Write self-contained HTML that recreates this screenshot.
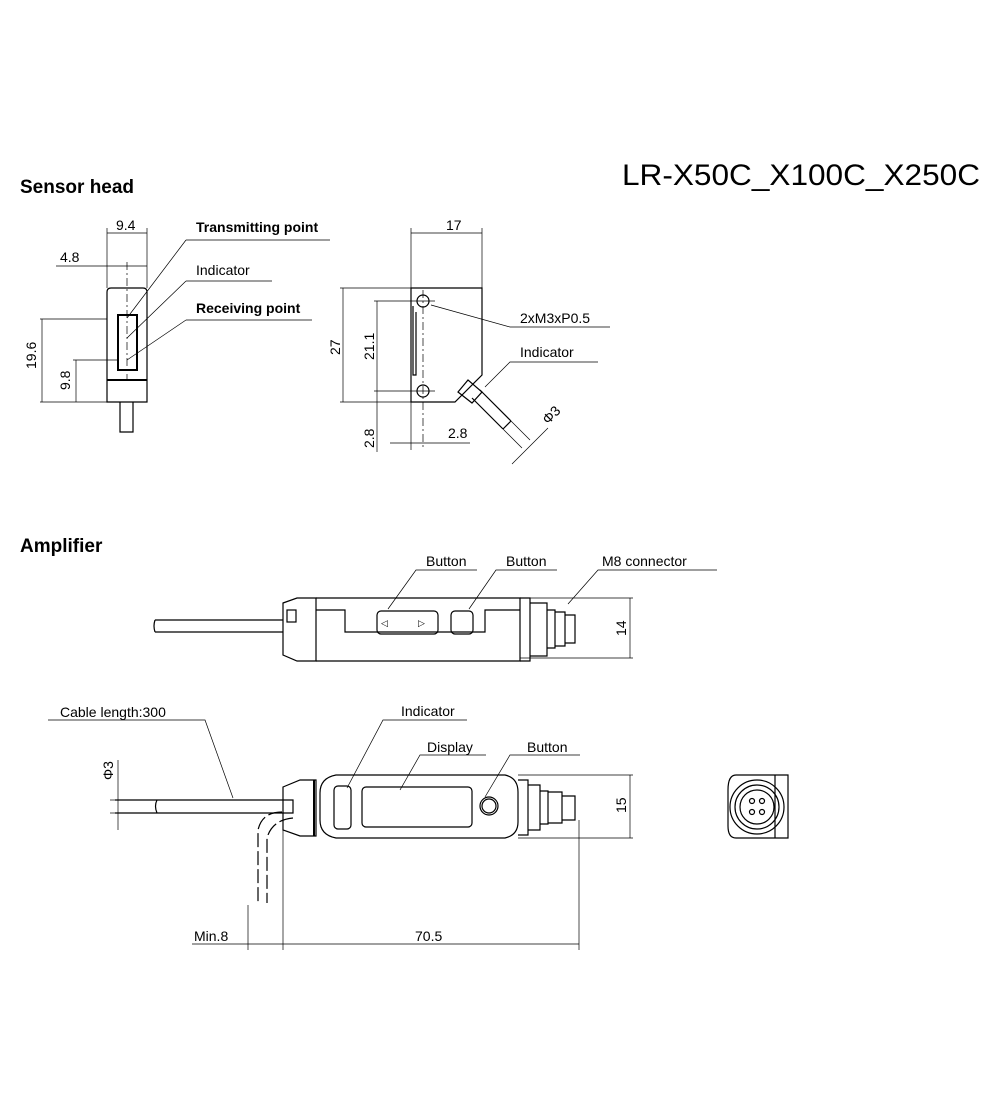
<!DOCTYPE html>
<html><head><meta charset="utf-8"><style>
html,body{margin:0;padding:0;background:#fff}
svg{display:block}
text{font-family:"Liberation Sans",sans-serif;fill:#000}
.t{font-size:14px}
.b{font-size:14px;font-weight:bold}
</style></head><body>
<svg width="1000" height="1100" viewBox="0 0 1000 1100" xmlns="http://www.w3.org/2000/svg" fill="none" stroke="#000" stroke-width="1">
<text x="622" y="185" style="font-size:30px" textLength="358" lengthAdjust="spacingAndGlyphs" stroke="none">LR-X50C_X100C_X250C</text>
<text x="20" y="193" style="font-size:19px;font-weight:bold" stroke="none">Sensor head</text>
<text x="20" y="552" style="font-size:19px;font-weight:bold" stroke="none">Amplifier</text>

<!-- sensor head side -->
<g stroke-width="1.2">
<path d="M107 402 V292 Q107 288 111 288 H143 Q147 288 147 292 V402 Z"/>
<line x1="107" y1="380" x2="147" y2="380" stroke-width="2"/>
<rect x="118" y="315" width="19" height="55" stroke-width="2"/>
<path d="M120 402 V432 H133 V402"/>
</g>
<line x1="127" y1="262" x2="127" y2="380" stroke-dasharray="8 3 2 3" stroke-width="0.7"/>
<g stroke-width="0.7">
<line x1="107" y1="228" x2="107" y2="288"/><line x1="147" y1="228" x2="147" y2="288"/>
<line x1="107" y1="233" x2="147" y2="233"/>
<line x1="56" y1="266" x2="147" y2="266"/>
<line x1="40" y1="319" x2="107" y2="319"/><line x1="73" y1="360" x2="118" y2="360"/><line x1="40" y1="402" x2="107" y2="402"/>
<line x1="42" y1="319" x2="42" y2="402"/><line x1="76" y1="360" x2="76" y2="402"/>
<path d="M186 240 H330 M186 240 L127 318 M186 281 H272 M186 281 L127 338 M186 320 H312 M186 320 L127 360"/>
</g>
<text x="116" y="230" class="t" stroke="none">9.4</text>
<text x="60" y="262" class="t" stroke="none">4.8</text>
<text x="36" y="369" class="t" stroke="none" transform="rotate(-90 36 369)">19.6</text>
<text x="70" y="390" class="t" stroke="none" transform="rotate(-90 70 390)">9.8</text>
<text x="196" y="232" class="b" stroke="none">Transmitting point</text>
<text x="196" y="275" class="t" stroke="none">Indicator</text>
<text x="196" y="313" class="b" stroke="none">Receiving point</text>

<!-- sensor head front -->
<g stroke-width="1.2">
<path d="M411 288 H482 V375 L455 402 H411 Z"/>
<circle cx="423" cy="301" r="6"/><circle cx="423" cy="391" r="6"/>
<path d="M413 306 V375 H416 V312"/>
<path d="M458 392 L468 380 L482 392 L472 403 Z"/>
<path d="M472 398 L503 429 M480 390 L511 421 M503 429 L511 421"/>
</g>
<g stroke-width="0.7">
<line x1="423" y1="290" x2="423" y2="450" stroke-dasharray="8 3 2 3"/>
<line x1="411" y1="228" x2="411" y2="450"/><line x1="482" y1="228" x2="482" y2="288"/>
<line x1="411" y1="233" x2="482" y2="233"/>
<line x1="340" y1="288" x2="411" y2="288"/><line x1="340" y1="402" x2="411" y2="402"/>
<line x1="343" y1="288" x2="343" y2="402"/>
<line x1="374" y1="301" x2="435" y2="301"/><line x1="374" y1="391" x2="435" y2="391"/>
<line x1="377" y1="301" x2="377" y2="452"/>
<line x1="390" y1="443" x2="470" y2="443"/>
<path d="M431 305 L510 327 H610 M485 387 L510 362 H598"/>
<path d="M503 429 L522 448 M511 421 L530 440 M512 464 L548 428"/>
</g>
<text x="446" y="230" class="t" stroke="none">17</text>
<text x="340" y="355" class="t" stroke="none" transform="rotate(-90 340 355)">27</text>
<text x="374" y="360" class="t" stroke="none" transform="rotate(-90 374 360)">21.1</text>
<text x="374" y="448" class="t" stroke="none" transform="rotate(-90 374 448)">2.8</text>
<text x="448" y="438" class="t" stroke="none">2.8</text>
<text x="520" y="323" class="t" stroke="none">2xM3xP0.5</text>
<text x="520" y="357" class="t" stroke="none">Indicator</text>
<text x="548" y="425" class="t" stroke="none" transform="rotate(-45 548 425)">Φ3</text>

<!-- amplifier top view -->
<g stroke-width="1.2">
<path d="M155 620 H283 M155 632 H283 M155 620 Q153 626 155 632"/>
<path d="M283 603 L297 598 H316 V661 H297 L283 655 Z"/>
<rect x="287" y="610" width="9" height="12"/>
<path d="M316 598 H520 V661 H316"/>
<path d="M316 610 H345 V632 H485 V610 H520"/>
<rect x="377" y="611" width="61" height="23" rx="4"/>
<rect x="451" y="611" width="22" height="23" rx="4"/>
<path d="M520 598 H530 V661 H520 M530 603 H547 V656 H530 M547 610 H555 V648 H547 M555 612 H565 V646 H555 M565 615 H575 V643 H565"/>
</g>
<text x="381" y="626" style="font-size:9px" stroke="none">◁</text><text x="418" y="626" style="font-size:9px" stroke="none">▷</text>
<g stroke-width="0.7">
<line x1="520" y1="598" x2="633" y2="598"/><line x1="520" y1="658" x2="633" y2="658"/>
<line x1="630" y1="598" x2="630" y2="658"/>
<path d="M388 609 L416 570 H477 M469 609 L496 570 H557 M568 604 L598 570 H717"/>
</g>
<text x="626" y="636" class="t" stroke="none" transform="rotate(-90 626 636)">14</text>
<text x="426" y="566" class="t" stroke="none">Button</text>
<text x="506" y="566" class="t" stroke="none">Button</text>
<text x="602" y="566" class="t" stroke="none">M8 connector</text>

<!-- amplifier bottom view -->
<g stroke-width="1.2">
<path d="M115 800 H293 V813 H115 M157 800 Q154 806 157 813"/>
<path d="M282 812 Q262 812 258 830 V903 M293 818 Q272 820 267 838 V903" stroke-dasharray="14 4"/>
<path d="M283 787 L300 780 H316 V836 H300 L283 830 Z"/>
<line x1="314" y1="780" x2="314" y2="836" stroke-width="2"/>
<path d="M336 775 H505 Q518 778 518 792 V822 Q518 835 505 838 H336 Q320 835 320 820 V793 Q320 778 336 775 Z"/>
<rect x="334" y="786" width="17" height="43" rx="4"/>
<rect x="362" y="787" width="110" height="40" rx="4"/>
<circle cx="489" cy="806" r="9"/><circle cx="489" cy="806" r="7"/>
<path d="M518 780 H528 V835 H518 M528 785 H540 V830 H528 M540 791 H548 V824 H540 M548 792 H562 V823 H548 M562 796 H575 V820 H562"/>
</g>
<g stroke-width="0.7">
<line x1="518" y1="775" x2="633" y2="775"/><line x1="518" y1="838" x2="633" y2="838"/>
<line x1="630" y1="775" x2="630" y2="838"/>
<line x1="118" y1="760" x2="118" y2="830"/>
<line x1="110" y1="800" x2="118" y2="800"/><line x1="110" y1="813" x2="118" y2="813"/>
<line x1="248" y1="905" x2="248" y2="950"/><line x1="283" y1="830" x2="283" y2="950"/><line x1="579" y1="820" x2="579" y2="950"/>
<line x1="192" y1="944" x2="579" y2="944"/>
<path d="M48 720 H205 L233 798 M347 788 L383 720 H467 M400 790 L420 755 H486 M485 797 L510 755 H580"/>
</g>
<text x="60" y="717" class="t" stroke="none">Cable length:300</text>
<text x="401" y="716" class="t" stroke="none">Indicator</text>
<text x="427" y="752" class="t" stroke="none">Display</text>
<text x="527" y="752" class="t" stroke="none">Button</text>
<text x="113" y="780" class="t" stroke="none" transform="rotate(-90 113 780)">Φ3</text>
<text x="626" y="813" class="t" stroke="none" transform="rotate(-90 626 813)">15</text>
<text x="194" y="941" class="t" stroke="none">Min.8</text>
<text x="415" y="941" class="t" stroke="none">70.5</text>

<!-- end view -->
<g stroke-width="1.2">
<path d="M736 775 H788 V838 H736 Q728 838 728 826 V790 Q728 775 736 775 Z"/>
<line x1="775" y1="775" x2="775" y2="838"/>
<circle cx="757" cy="807" r="27"/><circle cx="757" cy="807" r="22"/><circle cx="757" cy="807" r="17"/>
<circle cx="752" cy="801" r="2.5"/><circle cx="762" cy="801" r="2.5"/><circle cx="752" cy="812" r="2.5"/><circle cx="762" cy="812" r="2.5"/>
</g>
</svg>
</body></html>
